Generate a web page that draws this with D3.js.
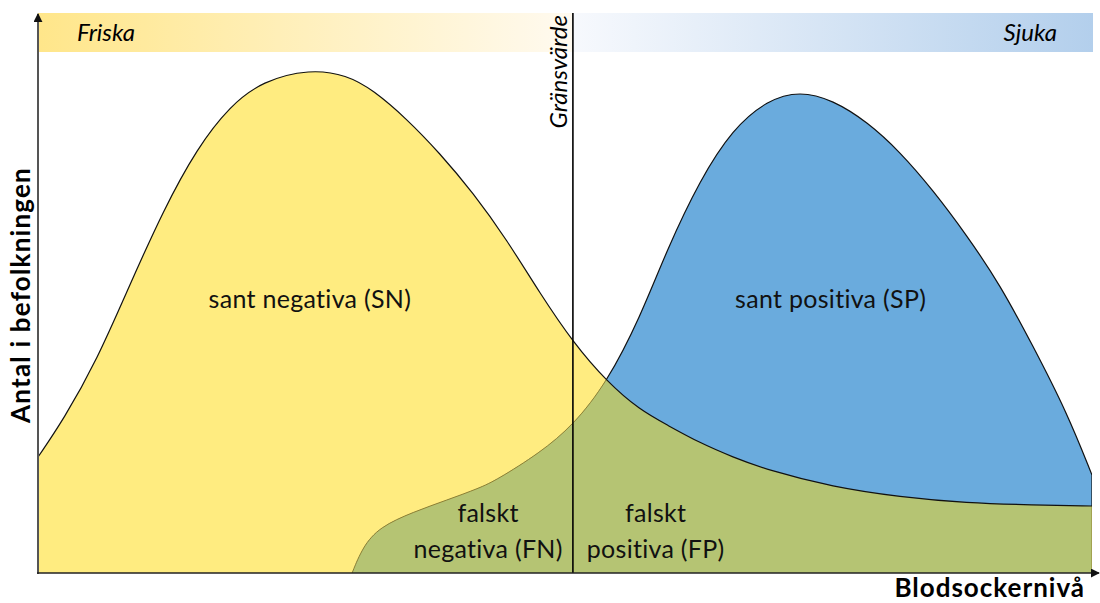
<!DOCTYPE html>
<html>
<head>
<meta charset="utf-8">
<script src="https://cdn.jsdelivr.net/npm/d3@7"></script>
<style>
  body { margin: 0; background: #fff; }
  svg { display: block; font-family: Lato, "Open Sans", sans-serif; font-variant-ligatures: none; }
</style>
</head>
<body>
<div id="chart"></div>
<script>
// blood sugar level (0-100) vs. count
const healthyX = [0, 2.4, 5.6, 8.7, 11.9, 15.1, 18.2, 21.3, 25.8, 29.3, 31.8, 35.0, 38.1, 41.3, 44.5, 47.6, 50.8, 54.0, 57.1, 59.7, 62.8, 65.9, 69.2, 75.4, 81.8, 88.1, 94.4, 100];
const healthyY = [23.2, 30.6, 42.6, 57.6, 72.6, 85, 93.4, 98.4, 100.8, 99.6, 96.6, 90.8, 84, 76, 66.6, 56, 46, 38.2, 32.6, 29.6, 26, 23.2, 20.6, 17.2, 15.2, 14, 13.6, 13.4];

const sickX = [29.8, 30.8, 32.4, 35.6, 38.8, 41.9, 43.5, 47.6, 50.8, 54.0, 57.1, 59.7, 62.8, 65.9, 69.2, 72.3, 75.4, 78.7, 81.8, 84.9, 88.1, 91.3, 94.4, 97.6, 100];
const sickY = [0, 5.2, 9.2, 12.2, 14.6, 17, 18.6, 24, 29.6, 38.2, 51, 64.8, 78.6, 88.8, 94.6, 96.4, 94.6, 90.2, 84.2, 76.6, 67.6, 57.6, 45.4, 32.2, 19.6];

const cutoff = 50.75;

const groupLabels = ["Friska", "Sjuka"];
const areaLabels = [
    { x: 25.8, y: 53, lines: ["sant negativa (SN)"] },
    { x: 75.2, y: 53, lines: ["sant positiva (SP)"] },
    { x: 42.7, y: 10.2, lines: ["falskt", "negativa (FN)"] },
    { x: 58.6, y: 10.2, lines: ["falskt", "positiva (FP)"] }
];
const axisTitles = { x: "Blodsockernivå", y: "Antal i befolkningen" };
const cutoffLabel = "Gränsvärde";

const width = 1100, height = 603;
const margin = { left: 38, right: 8, top: 73, bottom: 30 };

const x = d3.scaleLinear().domain([0, 100]).range([margin.left, width - margin.right]);
const y = d3.scaleLinear().domain([0, 100]).range([height - margin.bottom, margin.top]);

const healthy = healthyX.map((v, i) => ({ x: v, y: healthyY[i] }));
const sick = sickX.map((v, i) => ({ x: v, y: sickY[i] }));

const svg = d3.select("#chart").append("svg")
    .attr("width", width)
    .attr("height", height);

const defs = svg.append("defs");

const gradY = defs.append("linearGradient").attr("id", "gradHealthy");
gradY.append("stop").attr("offset", "0%").attr("stop-color", "#ffe68a");
gradY.append("stop").attr("offset", "100%").attr("stop-color", "#fffaf0");
const gradB = defs.append("linearGradient").attr("id", "gradSick");
gradB.append("stop").attr("offset", "0%").attr("stop-color", "#f7f9fd");
gradB.append("stop").attr("offset", "100%").attr("stop-color", "#b3cfec");

defs.append("marker")
    .attr("id", "arrow")
    .attr("viewBox", "0 0 10 10")
    .attr("refX", 9).attr("refY", 5)
    .attr("markerWidth", 9).attr("markerHeight", 9)
    .attr("markerUnits", "userSpaceOnUse")
    .attr("orient", "auto")
  .append("path")
    .attr("d", "M0,0L10,5L0,10z")
    .attr("fill", "#111");

const curve = d3.curveBasis;
const area = d3.area().curve(curve)
    .x(d => x(d.x)).y0(y(0)).y1(d => y(d.y));
const line = d3.line().curve(curve)
    .x(d => x(d.x)).y(d => y(d.y));

defs.append("clipPath").attr("id", "inHealthy")
  .append("path").attr("d", area(healthy));

const mask = defs.append("mask").attr("id", "outHealthy");
mask.append("rect").attr("width", width).attr("height", height).attr("fill", "#fff");
mask.append("path").attr("d", area(healthy)).attr("fill", "#000");

defs.append("clipPath").attr("id", "plot")
  .append("rect").attr("x", x(0)).attr("y", 0)
    .attr("width", x(100) - x(0)).attr("height", y(0));

// top bands
const bandTop = 13, bandH = 39;
svg.append("rect")
    .attr("x", x(0)).attr("y", bandTop)
    .attr("width", x(cutoff) - x(0)).attr("height", bandH)
    .attr("fill", "url(#gradHealthy)");
svg.append("rect")
    .attr("x", x(cutoff)).attr("y", bandTop)
    .attr("width", x(100) - x(cutoff) + 1).attr("height", bandH)
    .attr("fill", "url(#gradSick)");

svg.append("text")
    .attr("x", 77).attr("y", 41)
    .attr("font-size", 24).attr("font-style", "italic")
    .text(groupLabels[0]);
svg.append("text")
    .attr("x", 1057).attr("y", 41)
    .attr("text-anchor", "end")
    .attr("font-size", 24).attr("font-style", "italic")
    .text(groupLabels[1]);

// distributions
const plot = svg.append("g").attr("clip-path", "url(#plot)");
plot.append("path").attr("d", area(healthy)).attr("fill", "#ffec80");
plot.append("path").attr("d", area(sick)).attr("fill", "#6aabdd");
plot.append("path").attr("d", area(sick)).attr("fill", "#b5c473")
    .attr("clip-path", "url(#inHealthy)");

const sickEdge = line(sick) + "L" + x(100) + "," + y(0);
plot.append("path").attr("d", sickEdge)
    .attr("fill", "none").attr("stroke", "#8f8030").attr("stroke-width", 1)
    .attr("clip-path", "url(#inHealthy)");
plot.append("path").attr("d", sickEdge)
    .attr("fill", "none").attr("stroke", "#111").attr("stroke-width", 1.2)
    .attr("mask", "url(#outHealthy)");
plot.append("path").attr("d", line(healthy))
    .attr("fill", "none").attr("stroke", "#111").attr("stroke-width", 1.2);

// cutoff line
svg.append("line")
    .attr("x1", x(cutoff)).attr("x2", x(cutoff))
    .attr("y1", bandTop).attr("y2", y(0))
    .attr("stroke", "#000").attr("stroke-width", 1.6);
svg.append("text")
    .attr("transform", `translate(${x(cutoff) - 6},${bandTop + 2}) rotate(-90)`)
    .attr("text-anchor", "end")
    .attr("font-size", 24).attr("font-style", "italic")
    .text(cutoffLabel);

// axes
svg.append("line")
    .attr("x1", x(0)).attr("x2", x(0))
    .attr("y1", y(0) + 1).attr("y2", 14)
    .attr("stroke", "#555").attr("stroke-width", 2)
    .attr("marker-end", "url(#arrow)");
svg.append("line")
    .attr("x1", x(0) - 1).attr("x2", 1099)
    .attr("y1", y(0)).attr("y2", y(0))
    .attr("stroke", "#222").attr("stroke-width", 1.5)
    .attr("marker-end", "url(#arrow)");

svg.append("text")
    .attr("transform", `translate(30,${295}) rotate(-90)`)
    .attr("text-anchor", "middle")
    .attr("font-size", 26).attr("font-weight", "bold")
    .attr("letter-spacing", 1.2)
    .text(axisTitles.y);
svg.append("text")
    .attr("x", 1085).attr("y", 597)
    .attr("text-anchor", "end")
    .attr("font-size", 26).attr("font-weight", "bold")
    .attr("letter-spacing", 1)
    .text(axisTitles.x);

// region labels
areaLabels.forEach(l => {
    const t = svg.append("text")
        .attr("x", x(l.x)).attr("y", y(l.y))
        .attr("text-anchor", "middle")
        .attr("font-size", 25).attr("letter-spacing", 0.3).attr("fill", "#111");
    l.lines.forEach((s, i) => {
        t.append("tspan").attr("x", x(l.x)).attr("dy", i === 0 ? 0 : 36).text(s);
    });
});
</script>
</body>
</html>
